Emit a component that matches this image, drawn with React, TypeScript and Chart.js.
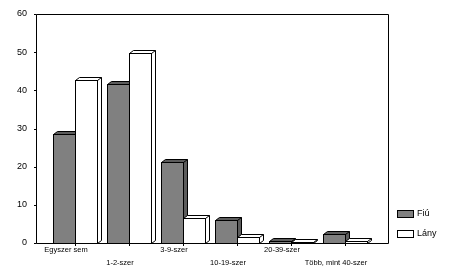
import React, { useEffect, useRef } from 'react';
import { Chart, registerables } from 'chart.js';
Chart.register(...registerables);

const categories = ['Egyszer sem', '1-2-szer', '3-9-szer', '10-19-szer', '20-39-szer', 'Több, mint 40-szer'];
const fiuValues = [28.6, 41.6, 21.3, 5.9, 0.5, 2.3];
const lanyValues = [42.6, 49.8, 6.6, 1.5, 0.3, 0.4];
const seriesLabels = ['Fiú', 'Lány'];
const frontColors = ['#808080', '#ffffff'];
const sideColors = ['#5c5c5c', '#ffffff'];
const yMax = 60;
const yStep = 10;

const FONT = '"Liberation Sans", Arial, sans-serif';
const DX = 4;
const DY = 3;
const FRAME_LEFT = 36;
const FRAME_RIGHT = 388;

const bar3d = {
  id: 'bar3d',
  afterDatasetsDraw(chart: any) {
    const ctx = chart.ctx;
    ctx.save();
    ctx.strokeStyle = '#000';
    ctx.lineWidth = 1;
    chart.data.datasets.forEach((_ds: any, di: number) => {
      const meta = chart.getDatasetMeta(di);
      meta.data.forEach((el: any) => {
        const { x, y, base, width } = el.getProps(['x', 'y', 'base', 'width'], true);
        const L = Math.round(x - width / 2) + 0.5;
        const R = Math.round(x + width / 2) + 0.5;
        const T = Math.round(y) + 0.5;
        const B = Math.round(base) + 0.5;
        ctx.fillStyle = sideColors[di];
        ctx.beginPath();
        ctx.moveTo(L, T);
        ctx.lineTo(L + DX, T - DY);
        ctx.lineTo(R + DX, T - DY);
        ctx.lineTo(R + DX, B - DY);
        ctx.lineTo(R, B);
        ctx.lineTo(R, T);
        ctx.closePath();
        ctx.fill();
        ctx.stroke();
        ctx.beginPath();
        ctx.moveTo(R, T);
        ctx.lineTo(R + DX, T - DY);
        ctx.stroke();
        ctx.fillStyle = frontColors[di];
        ctx.fillRect(L, T, R - L, B - T);
        ctx.strokeRect(L, T, R - L, B - T);
      });
    });
    ctx.restore();
  },
};

const frame = {
  id: 'frame',
  beforeDatasetsDraw(chart: any) {
    const ctx = chart.ctx;
    const ys = chart.scales.y;
    const top = Math.round(ys.getPixelForValue(yMax)) + 0.5;
    const bot = Math.round(ys.getPixelForValue(0)) + 0.5;
    ctx.save();
    ctx.strokeStyle = '#000';
    ctx.lineWidth = 1;
    ctx.beginPath();
    ctx.moveTo(FRAME_LEFT + 0.5, top);
    ctx.lineTo(FRAME_RIGHT + 0.5, top);
    ctx.lineTo(FRAME_RIGHT + 0.5, bot);
    ctx.lineTo(FRAME_LEFT + 0.5, bot);
    ctx.closePath();
    ctx.stroke();
    ys.ticks.forEach((t: any) => {
      const py = Math.round(ys.getPixelForValue(t.value)) + 0.5;
      ctx.beginPath();
      ctx.moveTo(FRAME_LEFT - 2, py);
      ctx.lineTo(FRAME_LEFT + 0.5, py);
      ctx.stroke();
    });
    ctx.restore();
  },
  afterDraw(chart: any) {
    const ctx = chart.ctx;
    ctx.save();
    ctx.font = `9px ${FONT}`;
    ctx.textBaseline = 'middle';
    ctx.textAlign = 'left';
    chart.data.datasets.forEach((ds: any, i: number) => {
      const by = 210 + i * 20;
      ctx.fillStyle = frontColors[i];
      ctx.fillRect(397, by, 16, 7);
      ctx.strokeStyle = '#000';
      ctx.lineWidth = 1;
      ctx.strokeRect(397.5, by + 0.5, 16, 7);
      ctx.fillStyle = '#000';
      ctx.fillText(ds.label, 417, by + 4);
    });
    ctx.restore();
  },
};

export default function App() {
  const ref = useRef<HTMLCanvasElement>(null);
  useEffect(() => {
    document.body.style.margin = '0';
    const chart = new Chart(ref.current as HTMLCanvasElement, {
      type: 'bar',
      data: {
        labels: categories,
        datasets: [
          {
            label: seriesLabels[0],
            data: fiuValues,
            backgroundColor: 'rgba(0,0,0,0)',
            borderWidth: 0,
            categoryPercentage: 0.815,
            barPercentage: 1,
          },
          {
            label: seriesLabels[1],
            data: lanyValues,
            backgroundColor: 'rgba(0,0,0,0)',
            borderWidth: 0,
            categoryPercentage: 0.815,
            barPercentage: 1,
          },
        ],
      },
      options: {
        responsive: false,
        animation: false,
        devicePixelRatio: 1,
        layout: { padding: { top: 14, right: 78, bottom: 0, left: 0 } },
        plugins: { legend: { display: false }, tooltip: { enabled: false } },
        scales: {
          x: {
            offset: true,
            grid: { display: true, drawOnChartArea: false, drawTicks: true, tickLength: 3, offset: false, color: '#000' },
            border: { display: false },
            ticks: {
              color: '#000',
              font: { family: FONT, size: 7.5, lineHeight: 13 / 7.5 },
              padding: -2.5,
              labelOffset: -9,
              maxRotation: 0,
              minRotation: 0,
              autoSkip: false,
              callback: (_v: any, i: number) => (i % 2 === 0 ? categories[i] : ['', categories[i]]),
            },
            afterFit: (s: any) => {
              s.height = 35;
            },
          },
          y: {
            min: 0,
            max: yMax,
            ticks: { stepSize: yStep, color: '#000', font: { family: FONT, size: 9 }, padding: 21 },
            grid: { display: false, drawTicks: false },
            border: { display: false },
            afterFit: (s: any) => {
              s.width = 48;
              s.paddingTop = 5;
              s.paddingBottom = 5;
            },
          },
        },
      },
      plugins: [frame, bar3d],
    } as any);
    return () => chart.destroy();
  }, []);
  return <canvas ref={ref} width={450} height={278} style={{ display: 'block' }} />;
}
